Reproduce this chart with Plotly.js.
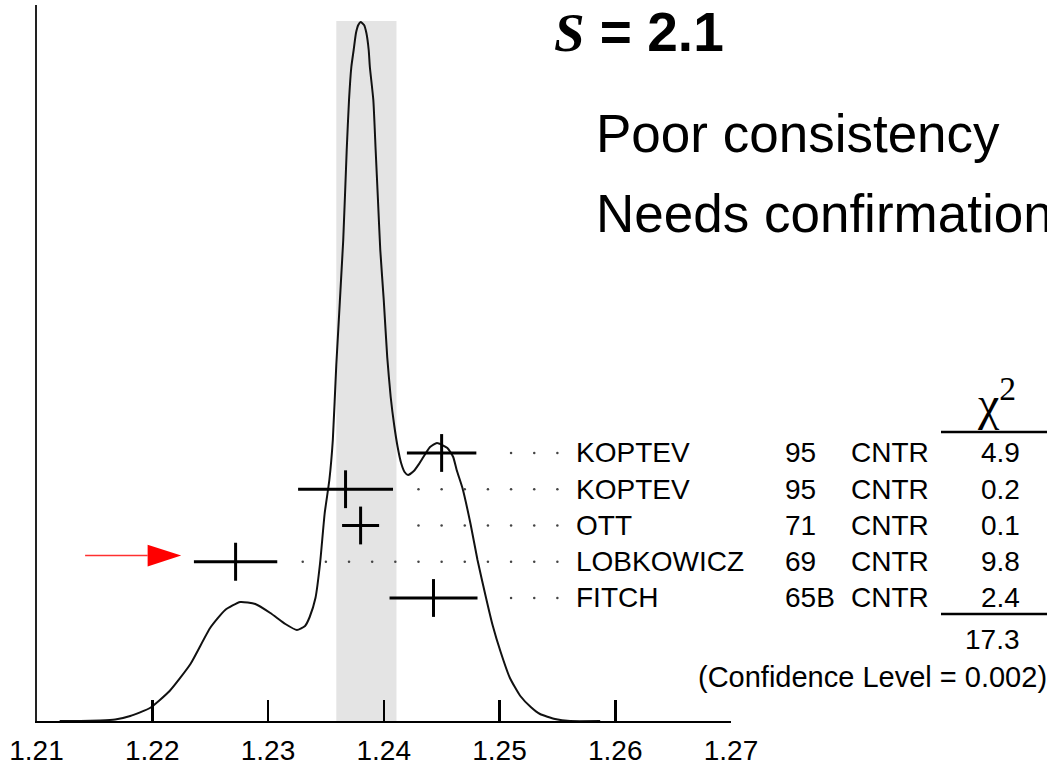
<!DOCTYPE html>
<html><head><meta charset="utf-8">
<script src="https://cdn.plot.ly/plotly-3.0.1.min.js"></script>
<style>html,body{margin:0;padding:0;background:#fff}</style>
</head><body><div id="chart" style="width:1047px;height:768px"></div>
<script>
// ---- data ----
const curveX = [1.2120,1.2138,1.2155,1.2168,1.2181,1.2198,1.2215,1.2233,1.2250,1.2263,1.2276,1.2289,1.2302,1.2315,1.2325,1.2332,1.2336,1.2341,1.2345,1.2349,1.2353,1.2356,1.2359,1.2365,1.2368,1.2370,1.2372,1.2374,1.2376,1.2378,1.2380,1.2383,1.2385,1.2387,1.2388,1.2391,1.2393,1.2395,1.2397,1.2400,1.2403,1.2406,1.2409,1.2412,1.2415,1.2418,1.2421,1.2426,1.2431,1.2440,1.2446,1.2455,1.2460,1.2463,1.2468,1.2475,1.2481,1.2488,1.2494,1.2501,1.2509,1.2518,1.2527,1.2535,1.2548,1.2561,1.2587];
const curveY = [0,0,0.5,1.5,5,13,30,57,93,111,119,117,108,97,91,95,104,123,158,208,241,281,356,481,571,621,654,671,688,696,699,696,688,671,654,621,571,521,471,421,364,324,296,274,258,249,246,250,258,274,278,273,264,251,233,197,161,125,96,69,43,25,14,7,2,0,0];

const names = ['KOPTEV','KOPTEV','OTT','LOBKOWICZ','FITCH'];
const years = ['95','95','71','69','65B'];
const techniques = ['CNTR','CNTR','CNTR','CNTR','CNTR'];
const values = [1.2450,1.2367,1.2380,1.2272,1.2443];
const errors = [0.0030,0.0041,0.0016,0.0036,0.0038];
const chi2 = ['4.9','0.2','0.1','9.8','2.4'];
const chi2Total = '17.3';
const confidenceLevel = '0.002';
const scaleFactor = '2.1';
const meanValue = 1.2385;
const meanError = 0.0026;
const xTicks = [1.21,1.22,1.23,1.24,1.25,1.26,1.27];
const flaggedRow = 3; // LOBKOWICZ, marked by the red arrow

// ---- layout helpers ----
const W = 1047, H = 768;
const px = v => v / W;
const py = v => 1 - v / H;
const FONT = 'Liberation Sans, Arial, sans-serif';
const SERIF = 'Liberation Serif, Times New Roman, serif';
const rows = names.map((_, i) => -i);

// dotted leaders on a fixed grid
const dotGrid = [];
for (let k = 0; k < 12; k++) dotGrid.push(1.255 - 0.002 * k);
const dotX = [], dotY = [];
values.forEach((v, i) => {
  dotGrid.forEach(g => { if (g > v + errors[i] + 0.0014) { dotX.push(g); dotY.push(rows[i]); } });
});

const traces = [
  {x: curveX, y: curveY, type: 'scatter', mode: 'lines', xaxis: 'x', yaxis: 'y',
   line: {color: '#111', width: 2, shape: 'spline', smoothing: 0.5}, hoverinfo: 'skip'},
  {x: dotX, y: dotY, type: 'scatter', mode: 'markers', xaxis: 'x', yaxis: 'y2',
   marker: {size: 2.5, color: '#444'}, hoverinfo: 'skip'},
  {x: values, y: rows, type: 'scatter', mode: 'markers', xaxis: 'x', yaxis: 'y2',
   marker: {symbol: 'line-ns', size: 27, color: '#000', line: {width: 3, color: '#000'}},
   error_x: {type: 'data', array: errors, visible: true, thickness: 3, width: 0, color: '#000'},
   hoverinfo: 'skip'}
];

const annotations = [];
names.forEach((n, i) => {
  const base = {yref: 'y2', y: rows[i], xref: 'paper', showarrow: false, yanchor: 'middle',
    font: {family: FONT, size: 28, color: '#000'}};
  annotations.push(Object.assign({}, base, {x: px(574), xanchor: 'left', text: n}));
  annotations.push(Object.assign({}, base, {x: px(783), xanchor: 'left', text: years[i]}));
  annotations.push(Object.assign({}, base, {x: px(849), xanchor: 'left', text: techniques[i]}));
  annotations.push(Object.assign({}, base, {x: px(1022), xanchor: 'right', text: chi2[i]}));
});
annotations.push({xref: 'paper', yref: 'paper', x: px(1022), y: py(639), xanchor: 'right', yanchor: 'middle',
  showarrow: false, text: chi2Total, font: {family: FONT, size: 28, color: '#000'}});
annotations.push({xref: 'paper', yref: 'paper', x: px(1049), y: py(677), xanchor: 'right', yanchor: 'middle',
  showarrow: false, text: '(Confidence Level = ' + confidenceLevel + ')', font: {family: FONT, size: 29, color: '#000'}});
annotations.push({xref: 'paper', yref: 'paper', x: px(996), y: py(400), xanchor: 'center', yanchor: 'middle',
  showarrow: false, text: 'χ<sup>2</sup>', font: {family: SERIF, size: 48, color: '#000'}});
annotations.push({xref: 'paper', yref: 'paper', x: px(553), y: 1, xanchor: 'left', yanchor: 'top', borderpad: 0,
  showarrow: false, text: '<b><i><span style="font-family:' + SERIF + '">S</span></i> = ' + scaleFactor + '</b>',
  font: {family: FONT, size: 55, color: '#000'}});
annotations.push({xref: 'paper', yref: 'paper', x: px(594), y: py(134), xanchor: 'left', yanchor: 'middle',
  showarrow: false, text: 'Poor consistency', font: {family: FONT, size: 53, color: '#000'}});
annotations.push({xref: 'paper', yref: 'paper', x: px(594), y: py(214), xanchor: 'left', yanchor: 'middle',
  showarrow: false, text: 'Needs confirmation', font: {family: FONT, size: 53, color: '#000'}});

// red arrow pointing at the flagged measurement
const tip = values[flaggedRow] - errors[flaggedRow] - 0.0011;
const back = tip - 0.0029;
const start = tip - 0.0083;
const ay = rows[flaggedRow] + 0.17;
const hh = 0.30;

const shapes = [
  {type: 'rect', xref: 'x', yref: 'y', x0: meanValue - meanError, x1: meanValue + meanError,
   y0: 0, y1: Math.max(...curveY) + 1, fillcolor: '#e4e4e4', line: {width: 0}, layer: 'below'},
  {type: 'line', xref: 'x', yref: 'y2', x0: start, x1: back, y0: ay, y1: ay, line: {color: '#ff3030', width: 1.5}},
  {type: 'path', xref: 'x', yref: 'y2', path: `M${back},${ay + hh} L${tip},${ay} L${back},${ay - hh} Z`,
   fillcolor: '#ff0000', line: {width: 0}},
  {type: 'line', xref: 'paper', yref: 'paper', x0: px(941), x1: 1, y0: py(432), y1: py(432), line: {color: '#000', width: 2.5}},
  {type: 'line', xref: 'paper', yref: 'paper', x0: px(941), x1: 1, y0: py(614), y1: py(614), line: {color: '#000', width: 2.5}}
];

const layout = {
  width: W, height: H,
  margin: {l: 0, r: 0, t: 0, b: 0},
  paper_bgcolor: '#fff', plot_bgcolor: 'rgba(0,0,0,0)',
  showlegend: false,
  xaxis: {domain: [px(36.5), px(731)], range: [1.21, 1.27], tickvals: xTicks,
    ticktext: xTicks.map(t => t.toFixed(2)), ticks: 'inside', ticklen: 21, tickwidth: 2.5, tickcolor: '#000',
    ticklabelstandoff: 3,
    showline: true, linewidth: 2, linecolor: '#000', showgrid: false, zeroline: false,
    tickfont: {family: FONT, size: 28, color: '#000'}, fixedrange: true},
  yaxis: {domain: [(H - 721) / H, (H - 5) / H], range: [0, 716], showline: true, linewidth: 2, linecolor: '#222',
    showticklabels: false, ticks: '', showgrid: false, zeroline: false, fixedrange: true},
  yaxis2: {overlaying: 'y', range: [-7.393, 12.357], visible: false, fixedrange: true},
  annotations: annotations,
  shapes: shapes
};

Plotly.newPlot('chart', traces, layout, {displayModeBar: false, staticPlot: true});
</script></body></html>
